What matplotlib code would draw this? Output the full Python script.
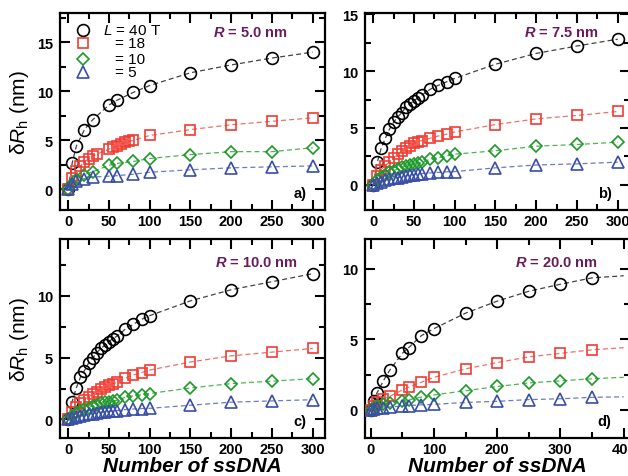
import numpy as np
import matplotlib.pyplot as plt
from matplotlib.ticker import MultipleLocator

plt.rcParams['font.family'] = ['Liberation Sans', 'DejaVu Sans']
plt.rcParams['mathtext.fontset'] = 'custom'
plt.rcParams['mathtext.it'] = 'Liberation Sans:italic'
plt.rcParams['mathtext.bfit'] = 'Liberation Sans:italic:bold'
plt.rcParams['mathtext.rm'] = 'Liberation Sans'

# ---- panel a) R = 5.0 nm
a_x40 = [0, 5, 10, 20, 30, 50, 60, 80, 100, 150, 200, 250, 300]
a_y40 = [0, 2.7, 4.4, 6.1, 7.1, 8.6, 9.1, 9.9, 10.6, 11.9, 12.7, 13.4, 14.0]
a_x18 = [0, 5, 10, 15, 20, 25, 30, 35, 50, 55, 60, 65, 70, 75, 80, 100, 150, 200, 250, 300]
a_y18 = [0, 1.2, 1.9, 2.4, 2.8, 3.1, 3.4, 3.6, 4.1, 4.3, 4.4, 4.6, 4.8, 4.9, 5.0, 5.5, 6.1, 6.6, 6.95, 7.3]
a_x10 = [0, 5, 10, 20, 30, 50, 60, 80, 100, 150, 200, 250, 300]
a_y10 = [0, 0.6, 1.0, 1.5, 1.8, 2.45, 2.65, 2.85, 3.15, 3.55, 3.85, 3.85, 4.25]
a_x5 = [0, 5, 10, 20, 30, 50, 60, 80, 100, 150, 200, 250, 300]
a_y5 = [0, 0.5, 0.9, 1.1, 1.25, 1.35, 1.4, 1.55, 1.75, 2.0, 2.2, 2.3, 2.4]

# ---- panel b) R = 7.5 nm
b_x = [0, 5, 10, 15, 20, 25, 30, 35, 40, 45, 50, 55, 60, 70, 80, 90, 100, 150, 200, 250, 300]
b_y40 = [0, 2.0, 3.25, 4.1, 4.9, 5.5, 5.95, 6.35, 6.8, 7.1, 7.4, 7.65, 7.9, 8.4, 8.75, 9.05, 9.35, 10.6, 11.55, 12.2, 12.8]
b_y18 = [0, 0.8, 1.35, 1.7, 2.0, 2.4, 2.7, 3.0, 3.2, 3.45, 3.65, 3.8, 3.9, 4.1, 4.3, 4.45, 4.65, 5.3, 5.8, 6.1, 6.45]
b_y10 = [0, 0.4, 0.7, 0.9, 1.1, 1.25, 1.4, 1.55, 1.65, 1.75, 1.85, 1.95, 2.0, 2.25, 2.4, 2.55, 2.7, 3.0, 3.4, 3.55, 3.75]
b_y5 = [0, 0.15, 0.3, 0.4, 0.5, 0.58, 0.65, 0.72, 0.8, 0.85, 0.9, 0.95, 1.0, 1.05, 1.1, 1.15, 1.17, 1.5, 1.75, 1.85, 2.0]

# ---- panel c) R = 10.0 nm
c_x = [0, 5, 10, 15, 20, 25, 30, 35, 40, 45, 50, 55, 60, 70, 80, 90, 100, 150, 200, 250, 300]
c_y40 = [0, 1.45, 2.55, 3.4, 3.95, 4.55, 4.95, 5.4, 5.75, 6.0, 6.3, 6.55, 6.75, 7.3, 7.7, 8.1, 8.4, 9.6, 10.5, 11.15, 11.8]
c_y18 = [0, 0.6, 1.0, 1.3, 1.6, 1.85, 2.05, 2.25, 2.45, 2.6, 2.75, 2.9, 3.0, 3.35, 3.6, 3.8, 4.0, 4.65, 5.15, 5.45, 5.75]
c_y10 = [0, 0.3, 0.5, 0.7, 0.85, 0.95, 1.1, 1.2, 1.3, 1.4, 1.45, 1.5, 1.55, 1.8, 1.9, 2.0, 2.1, 2.55, 2.9, 3.1, 3.3]
c_y5 = [0, 0.1, 0.2, 0.28, 0.35, 0.42, 0.48, 0.53, 0.58, 0.62, 0.65, 0.7, 0.72, 0.8, 0.85, 0.88, 0.9, 1.15, 1.4, 1.5, 1.6]

# ---- panel d) R = 20.0 nm
d_x = [0, 5, 10, 20, 30, 50, 60, 80, 100, 150, 200, 250, 300, 350]
d_y40 = [0, 0.65, 1.2, 2.05, 2.8, 4.0, 4.4, 5.25, 5.75, 6.85, 7.7, 8.4, 8.9, 9.35]
d_y18 = [0, 0.25, 0.55, 0.75, 0.95, 1.4, 1.6, 1.95, 2.3, 2.9, 3.35, 3.75, 4.0, 4.25]
d_y10 = [0, 0.15, 0.3, 0.4, 0.45, 0.65, 0.7, 0.9, 1.05, 1.35, 1.65, 1.9, 2.05, 2.2]
d_y5 = [0, 0.05, 0.1, 0.15, 0.2, 0.26, 0.3, 0.35, 0.38, 0.52, 0.6, 0.72, 0.78, 0.88]
# dashed fit curves continue to the axis end in d)
d_fit_end_x = 400
d_fit_end = [9.5, 4.4, 2.3, 0.92]

L_labels = ['$L$ = 40 T', '= 18', '= 10', '= 5']
R_labels = [r'$\mathbfit{R}$ = 5.0 nm', r'$\mathbfit{R}$ = 7.5 nm',
            r'$\mathbfit{R}$ = 10.0 nm', r'$\mathbfit{R}$ = 20.0 nm']
panel_tags = ['a)', 'b)', 'c)', 'd)']

colors = ['black', '#f03c32', '#1e9a2a', '#3a4ea8']
line_colors = ['#444444', '#f27068', '#4cb552', '#6a7cc4']
markers = ['o', 's', 'D', '^']
msizes = [8.5, 7.5, 6.0, 8.0]
purple = '#6a1b5c'

panels = [
    ([a_x40, a_x18, a_x10, a_x5], [a_y40, a_y18, a_y10, a_y5]),
    ([b_x] * 4, [b_y40, b_y18, b_y10, b_y5]),
    ([c_x] * 4, [c_y40, c_y18, c_y10, c_y5]),
    ([d_x] * 4, [d_y40, d_y18, d_y10, d_y5]),
]

rects = [
    [0.0955, 0.5577, 0.422, 0.413],
    [0.5812, 0.5577, 0.422, 0.413],
    [0.0955, 0.0797, 0.422, 0.417],
    [0.5812, 0.0797, 0.422, 0.417],
]
xlims = [(-10, 315), (-10, 315), (-10, 315), (-9, 410)]
ylims = [(-2.1, 18), (-2.2, 15.1), (-1.5, 14.6), (-2, 12.1)]
R_pos = [(0.577, 0.904), (0.6, 0.904), (0.585, 0.884), (0.566, 0.884)]

fig = plt.figure(figsize=(6.28, 4.77), dpi=100)

for i, (xs, ys) in enumerate(panels):
    ax = fig.add_axes(rects[i])
    for k in range(4):
        lx = list(xs[k])
        ly = list(ys[k])
        if i == 3:
            lx = lx + [d_fit_end_x]
            ly = ly + [d_fit_end[k]]
        ax.plot(lx, ly, ls=(0, (4, 2.5)), lw=0.9, color=line_colors[k], zorder=2)
        ax.plot(xs[k], ys[k], ls='none', marker=markers[k], ms=msizes[k],
                mfc='none', mec=colors[k], mew=1.2, zorder=3)

    ax.set_xlim(*xlims[i])
    ax.set_ylim(*ylims[i])
    if i == 3:
        ax.xaxis.set_major_locator(MultipleLocator(100))
        ax.xaxis.set_minor_locator(MultipleLocator(50))
    else:
        ax.xaxis.set_major_locator(MultipleLocator(50))
        ax.xaxis.set_minor_locator(MultipleLocator(25))
    ax.yaxis.set_major_locator(MultipleLocator(5))
    ax.yaxis.set_minor_locator(MultipleLocator(2.5))
    ax.tick_params(which='both', direction='in', top=True, right=True,
                   width=1.5, labelsize=10.5)
    ax.tick_params(axis='x', pad=3)
    ax.tick_params(axis='y', pad=5)
    ax.tick_params(which='major', length=7)
    ax.tick_params(which='minor', length=4)
    for lab in ax.get_xticklabels() + ax.get_yticklabels():
        lab.set_fontweight('bold')
    for sp in ax.spines.values():
        sp.set_linewidth(1.6)

    ax.text(R_pos[i][0], R_pos[i][1], R_labels[i], transform=ax.transAxes,
            color=purple, fontsize=10.5, fontweight='bold', ha='left', va='center')
    ax.text(0.93, 0.085, panel_tags[i], transform=ax.transAxes,
            fontsize=10.5, fontweight='bold', ha='right', va='center')

    if i in (0, 2):
        ax.set_ylabel('δ$R$$_\\mathregular{h}$ (nm)', fontsize=15, labelpad=4)
    if i in (2, 3):
        ax.set_xlabel('Number of ssDNA', fontsize=15, fontweight='bold',
                      fontstyle='italic', labelpad=0)

    if i == 0:
        rows_y = [0.915, 0.846, 0.766, 0.70]
        for k in range(4):
            ax.plot([0.087], [rows_y[k]], transform=ax.transAxes, ls='none',
                    marker=markers[k], ms=msizes[k], mfc='none', mec=colors[k],
                    mew=1.2, clip_on=False)
            tx = 0.162 if k == 0 else 0.208
            ax.text(tx, rows_y[k], L_labels[k], transform=ax.transAxes,
                    fontsize=11, ha='left', va='center')

fig.savefig('out.png', dpi=100)
